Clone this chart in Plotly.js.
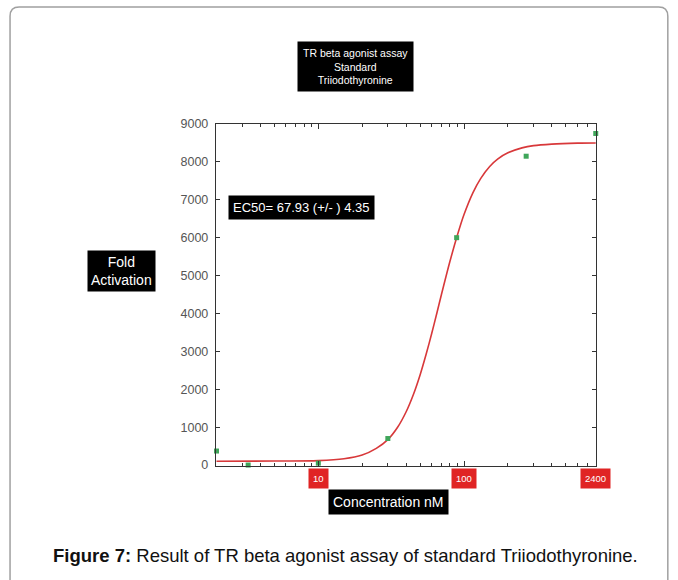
<!DOCTYPE html>
<html>
<head>
<meta charset="utf-8">
<script src="https://cdn.plot.ly/plotly-3.0.1.min.js"></script>
<style>
  html, body { margin: 0; padding: 0; background: #ffffff; }
  #chart { width: 678px; height: 580px; }
</style>
</head>
<body>
<div id="chart"></div>
<script>
// Measured responses (concentration in nM, fold activation)
const concentration = [2.0, 3.3, 10, 30, 89, 267, 802];
const activation    = [370, 0, 50, 700, 6000, 8150, 8750];

// Dose-response fit curve, sampled along the concentration axis
const fitConc = [2, 5, 10, 15, 20, 25, 30, 35, 40, 45, 50, 55, 60, 65, 70, 80, 90, 100, 115, 130, 150, 170, 200, 250, 300, 400, 600, 802];
const fitResp = [100, 105, 118, 166, 264, 440, 671, 996, 1400, 1869, 2385, 2930, 3470, 4000, 4500, 5370, 6064, 6610, 7184, 7560, 7880, 8075, 8240, 8370, 8430, 8470, 8495, 8500];

// Axis labelling
const xTickVals  = [10, 100, 802];
const xTickText  = ['10', '100', '2400'];
const xMinorVals = [3, 4, 5, 6, 7, 8, 9, 20, 30, 40, 50, 60, 70, 80, 90, 200, 300, 400, 500, 600, 700, 800];
const yTickVals  = [0, 1000, 2000, 3000, 4000, 5000, 6000, 7000, 8000, 9000];

const chartTitle = ['TR beta agonist assay', 'Standard', 'Triiodothyronine'];
const yLabel = ['Fold', 'Activation'];
const xLabel = 'Concentration nM';
const ec50Text = 'EC50= 67.93 (+/- ) 4.35';
const caption = '<b>Figure 7:</b> Result of TR beta agonist assay of standard Triiodothyronine.';

const FONT = 'Liberation Sans, Arial, sans-serif';

const traces = [
  {
    x: fitConc, y: fitResp, type: 'scatter', mode: 'lines',
    line: { color: '#d8383a', width: 1.6, shape: 'spline', smoothing: 0.8 },
    hoverinfo: 'skip', showlegend: false
  },
  {
    x: concentration, y: activation, type: 'scatter', mode: 'markers',
    marker: { symbol: 'square', size: 5, color: '#3fa65a' },
    cliponaxis: false, showlegend: false
  }
];

// Red tick-label tags under the x axis
const tagAnnotations = xTickVals.map((v, i) => ({
  xref: 'x', yref: 'paper', x: Math.log10(v), y: -0.038,
  text: xTickText[i], showarrow: false,
  font: { family: FONT, size: 9.5, color: '#ffffff' },
  bgcolor: '#e02424', borderpad: 4, xanchor: 'center', yanchor: 'middle'
}));

// Rounded outer frame in paper coordinates
const L = -0.542, T = 1.342, R = 1.189, B = -0.40, rx = 0.024, ry = 0.027;
const framePath = `M ${L},${B} L ${L},${T - ry} Q ${L},${T} ${L + rx},${T} L ${R - rx},${T} Q ${R},${T} ${R},${T - ry} L ${R},${B}`;

const layout = {
  width: 678, height: 580,
  margin: { l: 216, r: 82, t: 124, b: 114 },
  paper_bgcolor: '#ffffff', plot_bgcolor: '#ffffff',
  font: { family: FONT, color: '#444' },
  xaxis: {
    type: 'log',
    range: [Math.log10(1.985), Math.log10(805)],
    tickmode: 'array', tickvals: xTickVals, ticktext: xTickText,
    showticklabels: false,
    ticks: 'inside', ticklen: 5, tickcolor: '#333',
    minor: { tickmode: 'array', tickvals: xMinorVals, ticks: 'inside', ticklen: 3, tickcolor: '#333', showgrid: false },
    showgrid: false, zeroline: false,
    showline: true, linecolor: '#333', linewidth: 1.2, mirror: 'ticks'
  },
  yaxis: {
    range: [-25, 9000],
    tickmode: 'array', tickvals: yTickVals,
    ticks: 'inside', ticklen: 4, tickcolor: '#333',
    ticklabelstandoff: 4,
    tickfont: { family: FONT, size: 12.5, color: '#555' },
    showgrid: false, zeroline: false,
    showline: true, linecolor: '#333', linewidth: 1.2, mirror: 'ticks'
  },
  shapes: [
    { type: 'path', xref: 'paper', yref: 'paper', path: framePath,
      line: { color: '#a0a0a0', width: 1.5 } }
  ],
  annotations: [
    { xref: 'paper', yref: 'paper', x: 0.368, y: 1.167, showarrow: false,
      text: chartTitle.join('<br>'), align: 'center',
      font: { family: FONT, size: 10.5, color: '#ffffff' },
      bgcolor: '#000000', borderpad: 5, xanchor: 'center', yanchor: 'middle' },
    { xref: 'paper', yref: 'paper', x: -0.25, y: 0.570, showarrow: false,
      text: yLabel.join('<br>'), align: 'center',
      font: { family: FONT, size: 14, color: '#ffffff' },
      bgcolor: '#000000', borderpad: 3, xanchor: 'center', yanchor: 'middle' },
    { xref: 'paper', yref: 'paper', x: 0.031, y: 0.757, showarrow: false,
      text: ec50Text, font: { family: FONT, size: 13, color: '#ffffff' },
      bgcolor: '#000000', borderpad: 4, xanchor: 'left', yanchor: 'middle' },
    { xref: 'paper', yref: 'paper', x: 0.455, y: -0.105, showarrow: false,
      text: xLabel, font: { family: FONT, size: 14, color: '#ffffff' },
      bgcolor: '#000000', borderpad: 4, xanchor: 'center', yanchor: 'middle' },
    { xref: 'paper', yref: 'paper', x: 0.342, y: -0.263, showarrow: false,
      text: caption, font: { family: FONT, size: 18.5, color: '#111' },
      xanchor: 'center', yanchor: 'middle' },
    ...tagAnnotations
  ]
};

Plotly.newPlot('chart', traces, layout, { displayModeBar: false, staticPlot: true });
</script>
</body>
</html>
